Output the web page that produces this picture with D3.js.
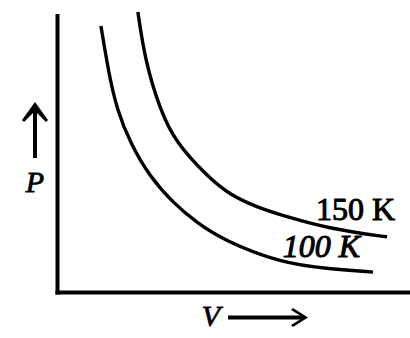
<!DOCTYPE html>
<html lang="en">
<head>
  <meta charset="UTF-8">
  <title>Isotherms P-V</title>
  <script src="https://cdn.jsdelivr.net/npm/d3@7"></script>
  <style>
    body { margin: 0; background: #fff; }
    text { font-family: "Liberation Serif", "Times New Roman", serif; fill: #000; }
  </style>
</head>
<body>

<script>
  // values (arbitrary units)
  var vol100 = [1.22, 1.45, 1.68, 2.05, 2.61, 3.27, 3.95, 4.69, 6.31, 7.73, 8.95];
  var pres100 = [9.57, 7.81, 6.56, 5.38, 4.16, 3.23, 2.51, 1.90, 1.08, 0.86, 0.75];
  var vol150 = [2.27, 2.47, 2.90, 3.35, 4.26, 4.89, 5.65, 6.31, 7.73, 9.35];
  var pres150 = [10.07, 8.35, 6.56, 5.38, 4.16, 3.51, 3.08, 2.80, 2.29, 2.01];
  var temps = ['100 K', '150 K'];

  var width = 410, height = 338;
  var svg = d3.select('body').append('svg').attr('width', width).attr('height', height);

  var x = d3.scaleLinear().domain([0, 10]).range([58, 410]);
  var y = d3.scaleLinear().domain([0, 10]).range([293, 14]);

  // axes (plain lines, no ticks)
  svg.append('line')
    .attr('x1', x(0) - 0.5).attr('y1', y(10))
    .attr('x2', x(0) - 0.5).attr('y2', y(0) + 1.5)
    .attr('stroke', '#000').attr('stroke-width', 4);
  svg.append('line')
    .attr('x1', x(0) - 2.5).attr('y1', y(0) - 0.5)
    .attr('x2', x(10)).attr('y2', y(0) - 0.5)
    .attr('stroke', '#000').attr('stroke-width', 4);

  var series = [
    {name: temps[0], pts: d3.zip(vol100, pres100), dx: -13, dy: -15, italic: true},
    {name: temps[1], pts: d3.zip(vol150, pres150), dx: 8, dy: -17, italic: false}
  ];

  var line = d3.line()
    .x(function(d){ return x(d[0]); })
    .y(function(d){ return y(d[1]); })
    .curve(d3.curveBasis);

  svg.selectAll('path.iso').data(series).enter()
    .append('path')
    .attr('class', 'iso')
    .attr('d', function(d){ return line(d.pts); })
    .attr('fill', 'none')
    .attr('stroke', '#000')
    .attr('stroke-width', 3.4)
    .attr('stroke-linecap', 'butt');

  svg.selectAll('text.lab').data(series).enter()
    .append('text')
    .attr('class', 'lab')
    .attr('x', function(d){ var p = d.pts[d.pts.length - 1]; return x(p[0]) + d.dx; })
    .attr('y', function(d){ var p = d.pts[d.pts.length - 1]; return y(p[1]) + d.dy; })
    .attr('text-anchor', 'end')
    .attr('font-size', 32)
    .attr('font-style', function(d){ return d.italic ? 'italic' : 'normal'; })
    .attr('stroke', '#000').attr('stroke-width', 1)
    .text(function(d){ return d.name; });

  // P label with upward arrow
  svg.append('path')
    .attr('d', 'M35,102 L48,120 L46,122 L37,113 L37,158 L33,158 L33,113 L24,122 L22,120 Z')
    .attr('fill', '#000');
  svg.append('text')
    .attr('x', 35).attr('y', 192)
    .attr('text-anchor', 'middle')
    .attr('font-size', 30)
    .attr('font-style', 'italic')
    .attr('stroke', '#000').attr('stroke-width', 0.8)
    .text('P');

  // V label with right arrow
  svg.append('text')
    .attr('x', 211).attr('y', 326)
    .attr('text-anchor', 'middle')
    .attr('font-size', 30)
    .attr('font-style', 'italic')
    .attr('stroke', '#000').attr('stroke-width', 0.8)
    .text('V');
  svg.append('path')
    .attr('d', 'M228,315.5 L300,315.5 L291,310 L293,308 L308,317.5 L293,327 L291,325 L300,319.5 L228,319.5 Z')
    .attr('fill', '#000');
</script>

</body>
</html>
